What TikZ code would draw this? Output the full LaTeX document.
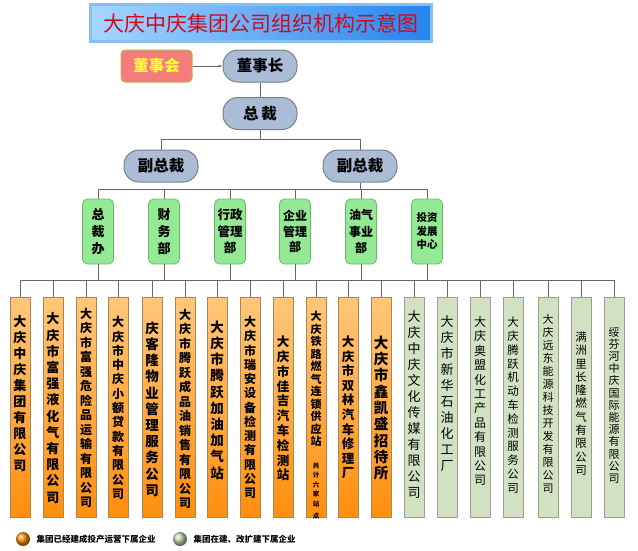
\documentclass[tikz,border=0pt]{standalone}
\usepackage{fontspec}
\setmainfont{Noto Sans CJK SC}
\XeTeXlinebreaklocale "zh"
\XeTeXlinebreakskip=0pt plus 1pt
\usetikzlibrary{arrows.meta,calc}

\definecolor{titleL}{HTML}{A6D6FF}
\definecolor{titleR}{HTML}{2484EE}
\definecolor{titleEdge}{HTML}{86C0F2}
\definecolor{titleInk}{HTML}{D00A1E}
\definecolor{boardFill}{HTML}{F47C7A}
\definecolor{boardEdge}{HTML}{BFB060}
\definecolor{boardInk}{HTML}{FFFF33}
\definecolor{leadFill}{HTML}{ABBCD6}
\definecolor{leadEdge}{HTML}{7A808C}
\definecolor{deptFill}{HTML}{94E994}
\definecolor{deptEdge}{HTML}{66BC66}
\definecolor{firmTop}{HTML}{FFC77A}
\definecolor{firmBot}{HTML}{FF8E0C}
\definecolor{firmEdge}{HTML}{A8865A}
\definecolor{sageFill}{HTML}{D3E1C3}
\definecolor{sageEdge}{HTML}{9AA090}
\definecolor{sageBall}{HTML}{BFD8A4}
\definecolor{wireC}{HTML}{666666}

\tikzset{
  titlebox/.style={draw=titleEdge, line width=3pt, left color=titleL, right color=titleR,
    minimum width=341pt, minimum height=37pt, text=titleInk, font=\fontsize{21}{24}\selectfont},
  board/.style={draw=boardEdge, fill=boardFill, line width=1pt, rounded corners=4pt,
    minimum width=71pt, minimum height=32pt, text=boardInk, font=\fontsize{15.5}{18}\selectfont\bfseries},
  lead/.style={draw=leadEdge, fill=leadFill, line width=1pt, rounded corners=15pt,
    minimum width=74pt, minimum height=32pt, font=\fontsize{15.5}{18}\selectfont\bfseries},
  dept/.style={draw=deptEdge, fill=deptFill, line width=0.8pt, rounded corners=5pt,
    minimum width=31pt, minimum height=65pt, inner sep=0pt, align=center},
  firmA/.style={draw=firmEdge, top color=firmTop, bottom color=firmBot, line width=0.6pt},
  firmB/.style={draw=sageEdge, fill=sageFill, line width=0.6pt},
  firm/.style={minimum width=20pt, minimum height=220pt, inner sep=0pt},
  firmtext/.style={text width=16pt, align=center, inner sep=0pt},
  wire/.style={draw=wireC, line width=0.9pt},
  legendtext/.style={anchor=west, font=\fontsize{8.5}{10}\selectfont\bfseries},
}

\begin{document}
\begin{tikzpicture}[x=1pt, y=-1pt]
    \useasboundingbox (0,0) rectangle (638,550);

    % title
    \node[titlebox] (title) at (261,23) {大庆中庆集团公司组织机构示意图};

    % top management
    \node[board] (dsh) at (156.5,66) {董事会};
    \node[lead] (dsz) at (260,66) {董事长};
    \node[lead] (zc) at (260,113.5) {总\,裁};
    \node[lead] (fz1) at (161,166) {副总裁};
    \node[lead] (fz2) at (360,166) {副总裁};

    \draw[wire, line width=0.6pt, -{Latex[length=4pt,width=3pt]}] (dsh) -- (dsz);
    \draw[wire] (dsz) -- (zc);
    \draw[wire] (zc.south) -- ++(0,9) -| (fz1.north);
    \draw[wire] (zc.south) -- ++(0,9) -| (fz2.north);

    % departments
    \foreach \n/\x/\fs/\bs/\name in {
        1/98/13/17/{总\\裁\\办},
        2/164/13/17/{财\\务\\部},
        3/230/12.5/16.5/{行政\\管理\\部},
        4/295/12/15.5/{企业\\管理\\部},
        5/361/12/16.5/{油气\\事业\\部},
        6/427/10.5/13.5/{投资\\发展\\中心}}
    {
        \node[dept, font=\fontsize{\fs}{\bs}\selectfont\bfseries] (g\n) at (\x,231.5) {\name};
    }
    \coordinate (bus2) at ($(fz1.south)+(0,7)$);
    \draw[wire] (fz2.south) -- (fz2.south |- bus2);
    \foreach \n in {1,...,6}
        \draw[wire] (g\n.north) |- (bus2);

    % companies
    \foreach \n/\x/\ty/\fs/\bs/\kind/\wt/\name in {
        1/20/393.5/13/16/firmA/b/大庆中庆集团有限公司,
        2/53/408/13/16.2/firmA/b/大庆市富强液化气有限公司,
        3/86/408/12/14.5/firmA/b/大庆市富强危险品运输有限公司,
        4/118/408/12/14.3/firmA/b/大庆市中庆小额贷款有限公司,
        5/152/409/13.5/16.2/firmA/b/庆客隆物业管理服务公司,
        6/185/409/12/14.5/firmA/b/大庆市腾跃成品油销售有限公司,
        7/217/400/13.5/16.2/firmA/b/大庆市腾跃加油加气站,
        8/250/407.5/12/14.25/firmA/b/大庆市瑞安设备检测有限公司,
        9/283/408.5/12.5/14.8/firmA/b/大庆市佳吉汽车检测站,
        10/316/415.5/11/12.5/firmA/b/{大庆铁路燃气连锁供应站\endgraf\vspace{13pt}\fontsize{6.5}{9.5}\selectfont 共\\计\\六\\家\\站\\点},
        11/348/407.5/12.5/14.6/firmA/b/大庆市双林汽车修理厂,
        12/381/408/14.5/16.3/firmA/b/大庆市鑫凯盛招待所,
        13/414/404.5/13/16/firmB/m/大庆中庆文化传媒有限公司,
        14/447/393.5/13/16/firmB/m/大庆市新华石油化工厂,
        15/480/401/12/14.4/firmB/m/大庆奥盟化工产品有限公司,
        16/513/405/11.5/13.8/firmB/m/大庆腾跃机动车检测服务公司,
        17/548/404/11/13/firmB/m/大庆远东能源科技开发有限公司,
        18/581/403.5/11.5/13.3/firmB/m/满洲里长隆燃气有限公司,
        19/614/405/11/12.2/firmB/m/绥芬河中庆国际能源有限公司}
    {
        \node[firm, \kind] (b\n) at (\x,407) {};
        \node[firmtext, font=\fontsize{\fs}{\bs}\fontseries{\wt}\selectfont] (t\n) at (\x,\ty) {\name};
    }
    \coordinate (bus3) at ($(g1.south)+(0,16)$);
    \foreach \n in {1,...,6}
        \draw[wire] (g\n.south) -- (g\n.south |- bus3);
    \foreach \n in {1,...,19}
        \draw[wire] (b\n.north) |- (bus3);

    % legend
    \shade[ball color=firmBot] (23,539) circle (7);
    \node[legendtext] (lg1) at (33,539) {集团已经建成投产运营下属企业};
    \shade[ball color=sageBall] (180,539) circle (7);
    \node[legendtext] (lg2) at (190,539) {集团在建、改扩建下属企业};
\end{tikzpicture}
\end{document}
